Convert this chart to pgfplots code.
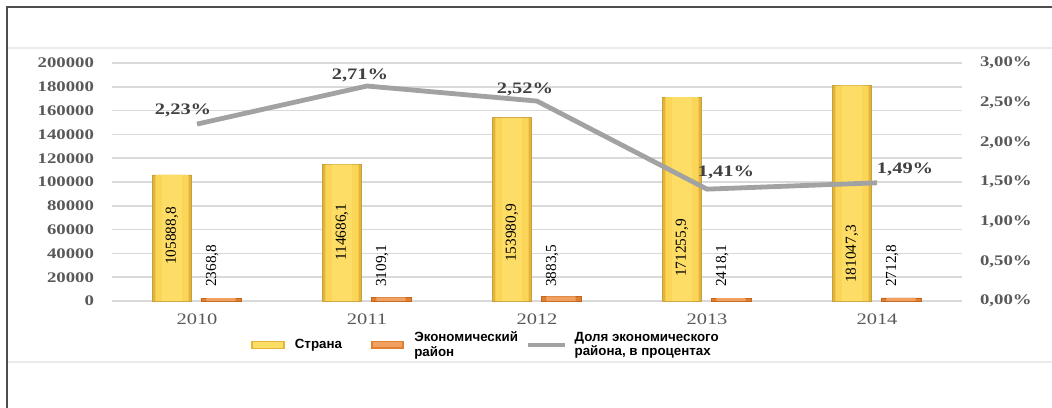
\documentclass[border=0pt]{standalone}
\usepackage{fontspec}
\setmainfont{Liberation Serif}
\newfontfamily\wideserif{Liberation Serif}[FakeStretch=1.28]
\newfontfamily\legendfont{Liberation Sans}
\usepackage{pgfplots}
\pgfplotsset{compat=1.18}
\usepackage{pgfplotstable}

\definecolor{tickgray}{HTML}{595959}
\definecolor{gridgray}{HTML}{D9D9D9}
\definecolor{yA}{HTML}{E2B43A}
\definecolor{yB}{HTML}{FAD558}
\definecolor{yC}{HTML}{FDDD66}
\definecolor{yedge}{HTML}{C8A040}
\definecolor{oA}{HTML}{E07F30}
\definecolor{oB}{HTML}{F0A060}
\definecolor{oedge}{HTML}{C0661E}
\definecolor{linegray}{HTML}{A2A2A2}
\definecolor{framegray}{HTML}{4D4D4D}
\definecolor{faint}{HTML}{EBEBEB}
\definecolor{labgray}{HTML}{404040}

% categories at 0..4 (2010..2014)
\pgfplotstableread{
x strana   rayon  share
0 105888.8 2368.8 2.23
1 114686.1 3109.1 2.71
2 153980.9 3883.5 2.52
3 171255.9 2418.1 1.41
4 181047.3 2712.8 1.49
}\datatable

% value labels inside the yellow bars
\pgfplotstableread{
x      y     lab
-0.147 54600 105888,8
0.853  58000 114686,1
1.853  57100 153980,9
2.853  44500 171255,9
3.853  39500 181047,3
}\stranalab

% value labels above the orange bars
\pgfplotstableread{
x     y     lab
0.09  11800 2368,8
1.09  11800 3109,1
2.09  11800 3883,5
3.09  11800 2418,1
4.09  11800 2712,8
}\rayonlab

% labels of the share line
\pgfplotstableread{
x      y     lab
-0.082 2.408 2,23
0.959  2.849 2,71
1.929  2.672 2,52
3.112  1.626 1,41
4.165  1.664 1,49
}\sharelab

\begin{document}
\begin{tikzpicture}
\path[use as bounding box] (-84pt,-79.5pt) rectangle (705pt,225.75pt);

\begin{axis}[
  scale only axis,
  width=637.5pt, height=178.5pt,
  xmin=-0.5, xmax=4.5,
  ymin=0, ymax=200000,
  scaled y ticks=false,
  axis line style={draw=none},
  major tick length=0pt,
  ymajorgrids=true,
  grid style={color=gridgray, line width=1.1pt},
  xtick={0,1,2,3,4},
  xticklabels={2010,2011,2012,2013,2014},
  ytick={0,20000,...,200000},
  yticklabels={0,20000,40000,60000,80000,100000,120000,140000,160000,180000,200000},
  yticklabel style={font=\wideserif\bfseries\fontsize{11}{13}\selectfont, color=tickgray, xshift=-10pt},
  xticklabel style={font=\wideserif\fontsize{12}{14}\selectfont, color=tickgray, yshift=-6pt},
]
% Страна: layered bars give darker sides and a light body
\addplot[ybar, bar width=29pt, bar shift=-18.75pt, draw=yedge, line width=0.5pt, fill=yA]
  table[x=x, y=strana] {\datatable};
\addplot[ybar, bar width=25pt, bar shift=-18.75pt, draw=none, fill=yB]
  table[x=x, y=strana] {\datatable};
\addplot[ybar, bar width=15pt, bar shift=-18.75pt, draw=none, fill=yC]
  table[x=x, y=strana] {\datatable};
% Экономический район
\addplot[ybar, bar width=30pt, bar shift=18pt, draw=oedge, line width=0.3pt, fill=oA]
  table[x=x, y=rayon] {\datatable};
\addplot[ybar, bar width=22pt, bar shift=18pt, draw=none, fill=oB]
  table[x=x, y=rayon] {\datatable};

\addplot[only marks, mark=none, nodes near coords, point meta=explicit symbolic,
  nodes near coords style={rotate=90, anchor=center, inner sep=0pt,
    font=\fontsize{11.5}{13}\selectfont, color=black}]
  table[x=x, y=y, meta=lab] {\stranalab};
\addplot[only marks, mark=none, nodes near coords, point meta=explicit symbolic,
  nodes near coords style={rotate=90, anchor=west, inner sep=0pt,
    font=\fontsize{11.5}{13}\selectfont, color=black}]
  table[x=x, y=y, meta=lab] {\rayonlab};
\end{axis}

\begin{axis}[
  scale only axis,
  width=637.5pt, height=178.5pt,
  xmin=-0.5, xmax=4.5,
  ymin=0, ymax=3,
  axis x line=none,
  axis y line*=right,
  axis line style={draw=none},
  major tick length=0pt,
  ytick={0,0.5,1,1.5,2,2.5,3},
  yticklabels={{0,00\%},{0,50\%},{1,00\%},{1,50\%},{2,00\%},{2,50\%},{3,00\%}},
  yticklabel style={font=\wideserif\bfseries\fontsize{11}{13}\selectfont, color=tickgray, xshift=10pt},
  legend columns=3,
  legend style={at={(0.158,-0.185)}, anchor=west, draw=none, fill=none,
    font=\legendfont\bfseries\fontsize{10}{11}\selectfont,
    cells={align=left, anchor=west},
    /tikz/column 2/.style={column sep=20pt},
    /tikz/column 4/.style={column sep=4pt}},
]
\addlegendimage{legend image code/.code={
  \path[draw=none] (0pt,0pt) -- (31pt,0pt);
  \fill[yA] (0pt,-2.6pt) rectangle (25pt,2.6pt);
  \fill[yC] (1.5pt,-1.8pt) rectangle (23.5pt,2pt);}}
\addlegendentry{Страна}
\addlegendimage{legend image code/.code={
  \path[draw=none] (0pt,0pt) -- (30pt,0pt);
  \fill[oA] (0pt,-2.8pt) rectangle (24pt,2.8pt);
  \fill[oB] (1.5pt,-1.2pt) rectangle (22.5pt,2pt);}}
\addlegendentry{Экономический\\район}

\addplot[color=linegray, line width=3.6pt, line join=round, mark=none,
  legend image code/.code={\path[draw=none] (0pt,0pt) -- (33pt,0pt);
    \draw[linegray, line width=3pt] (0pt,0pt) -- (28pt,0pt);}]
  table[x=x, y=share] {\datatable};
\addlegendentry{Доля экономического\\района, в процентах}

\addplot[only marks, mark=none, forget plot, nodes near coords={\pgfplotspointmeta\%},
  point meta=explicit symbolic,
  nodes near coords style={anchor=center, inner sep=0pt,
    font=\wideserif\bfseries\fontsize{12}{14}\selectfont, color=labgray}]
  table[x=x, y=y, meta=lab] {\sharelab};
\end{axis}

\draw[framegray, line width=1.5pt] (-78.75pt,-80pt) -- (-78.75pt,220.5pt) -- (706pt,220.5pt);
\draw[faint, line width=1.5pt] (-78pt,189.75pt) -- (706pt,189.75pt);
\draw[faint, line width=1.5pt] (-78pt,-45.75pt) -- (706pt,-45.75pt);
\end{tikzpicture}
\end{document}
